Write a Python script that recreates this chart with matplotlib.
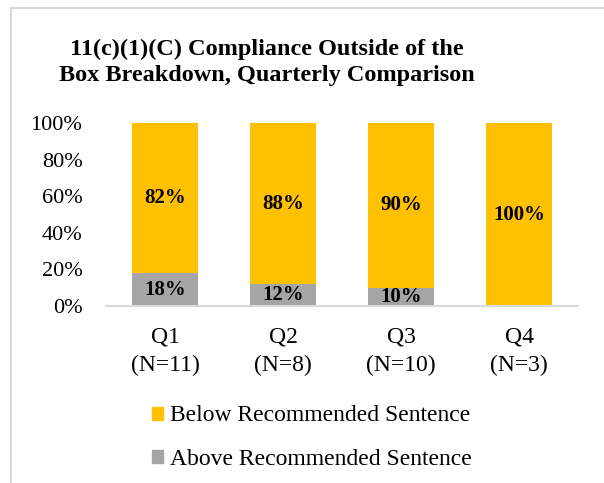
import matplotlib
matplotlib.use("Agg")
import matplotlib.pyplot as plt
import matplotlib.patches as mpatches
from matplotlib.lines import Line2D
import numpy as np

categories = ["Q1\n(N=11)", "Q2\n(N=8)", "Q3\n(N=10)", "Q4\n(N=3)"]
above = [18, 12, 10, 0]
below = [82, 88, 90, 100]
yticks = [0, 20, 40, 60, 80, 100]
title = "11(c)(1)(C) Compliance Outside of the\nBox Breakdown, Quarterly Comparison"

GOLD = "#FFC000"
GRAY = "#A5A5A5"
LINE = "#D9D9D9"

plt.rcParams['font.family'] = ['Liberation Serif', 'DejaVu Serif']

W, H = 604, 483
fig = plt.figure(figsize=(W / 100, H / 100), dpi=100)

# outer chart border (top & left visible)
fig.add_artist(Line2D([10.5 / W, 10.5 / W], [0, 1 - 8 / H], color=LINE, lw=1.5, transform=fig.transFigure))
fig.add_artist(Line2D([10.5 / W, 1], [1 - 8 / H, 1 - 8 / H], color=LINE, lw=1.5, transform=fig.transFigure))

ax = fig.add_axes([106 / W, 1 - 306 / H, 472 / W, 183 / H])
x = np.arange(len(categories))
bw = 0.56
ax.bar(x, above, bw, color=GRAY, label="Above Recommended Sentence", zorder=2)
ax.bar(x, below, bw, bottom=above, color=GOLD, label="Below Recommended Sentence", zorder=2)

for i in range(len(categories)):
    if above[i] > 0:
        ax.text(x[i], above[i] / 2, f"{above[i]}%", ha="center", va="center",
                fontsize=15, fontweight="bold", zorder=3)
    if below[i] > 0:
        ax.text(x[i], above[i] + below[i] / 2, f"{below[i]}%", ha="center", va="center",
                fontsize=15, fontweight="bold", zorder=3)

ax.set_xlim(-0.5, len(categories) - 0.5)
ax.set_ylim(0, 100)
ax.set_yticks(yticks)
ax.set_yticklabels([f"{t}%" for t in yticks], fontsize=16)
ax.set_xticks(x)
ax.set_xticklabels(categories, fontsize=17, linespacing=1.45)
ax.tick_params(axis="y", length=0, pad=17)
ax.tick_params(axis="x", length=0, pad=15)
for s in ["top", "right", "left"]:
    ax.spines[s].set_visible(False)
ax.spines["bottom"].set_color(LINE)
ax.spines["bottom"].set_linewidth(1.5)

fig.text(267 / W, 1 - 62.5 / H, title, ha="center", va="center", fontsize=17.5,
         fontweight="bold", linespacing=1.3)

handles = [mpatches.Patch(color=GOLD), mpatches.Patch(color=GRAY)]
labels = ["Below Recommended Sentence", "Above Recommended Sentence"]
fig.legend(handles, labels, loc="center left", bbox_to_anchor=(152 / W, 1 - 437.5 / H),
           frameon=False, fontsize=17, handlelength=0.47, handleheight=0.47,
           handletextpad=0.3, labelspacing=0.94, borderaxespad=0, borderpad=0)

fig.savefig("out.png", dpi=100, facecolor="white")
